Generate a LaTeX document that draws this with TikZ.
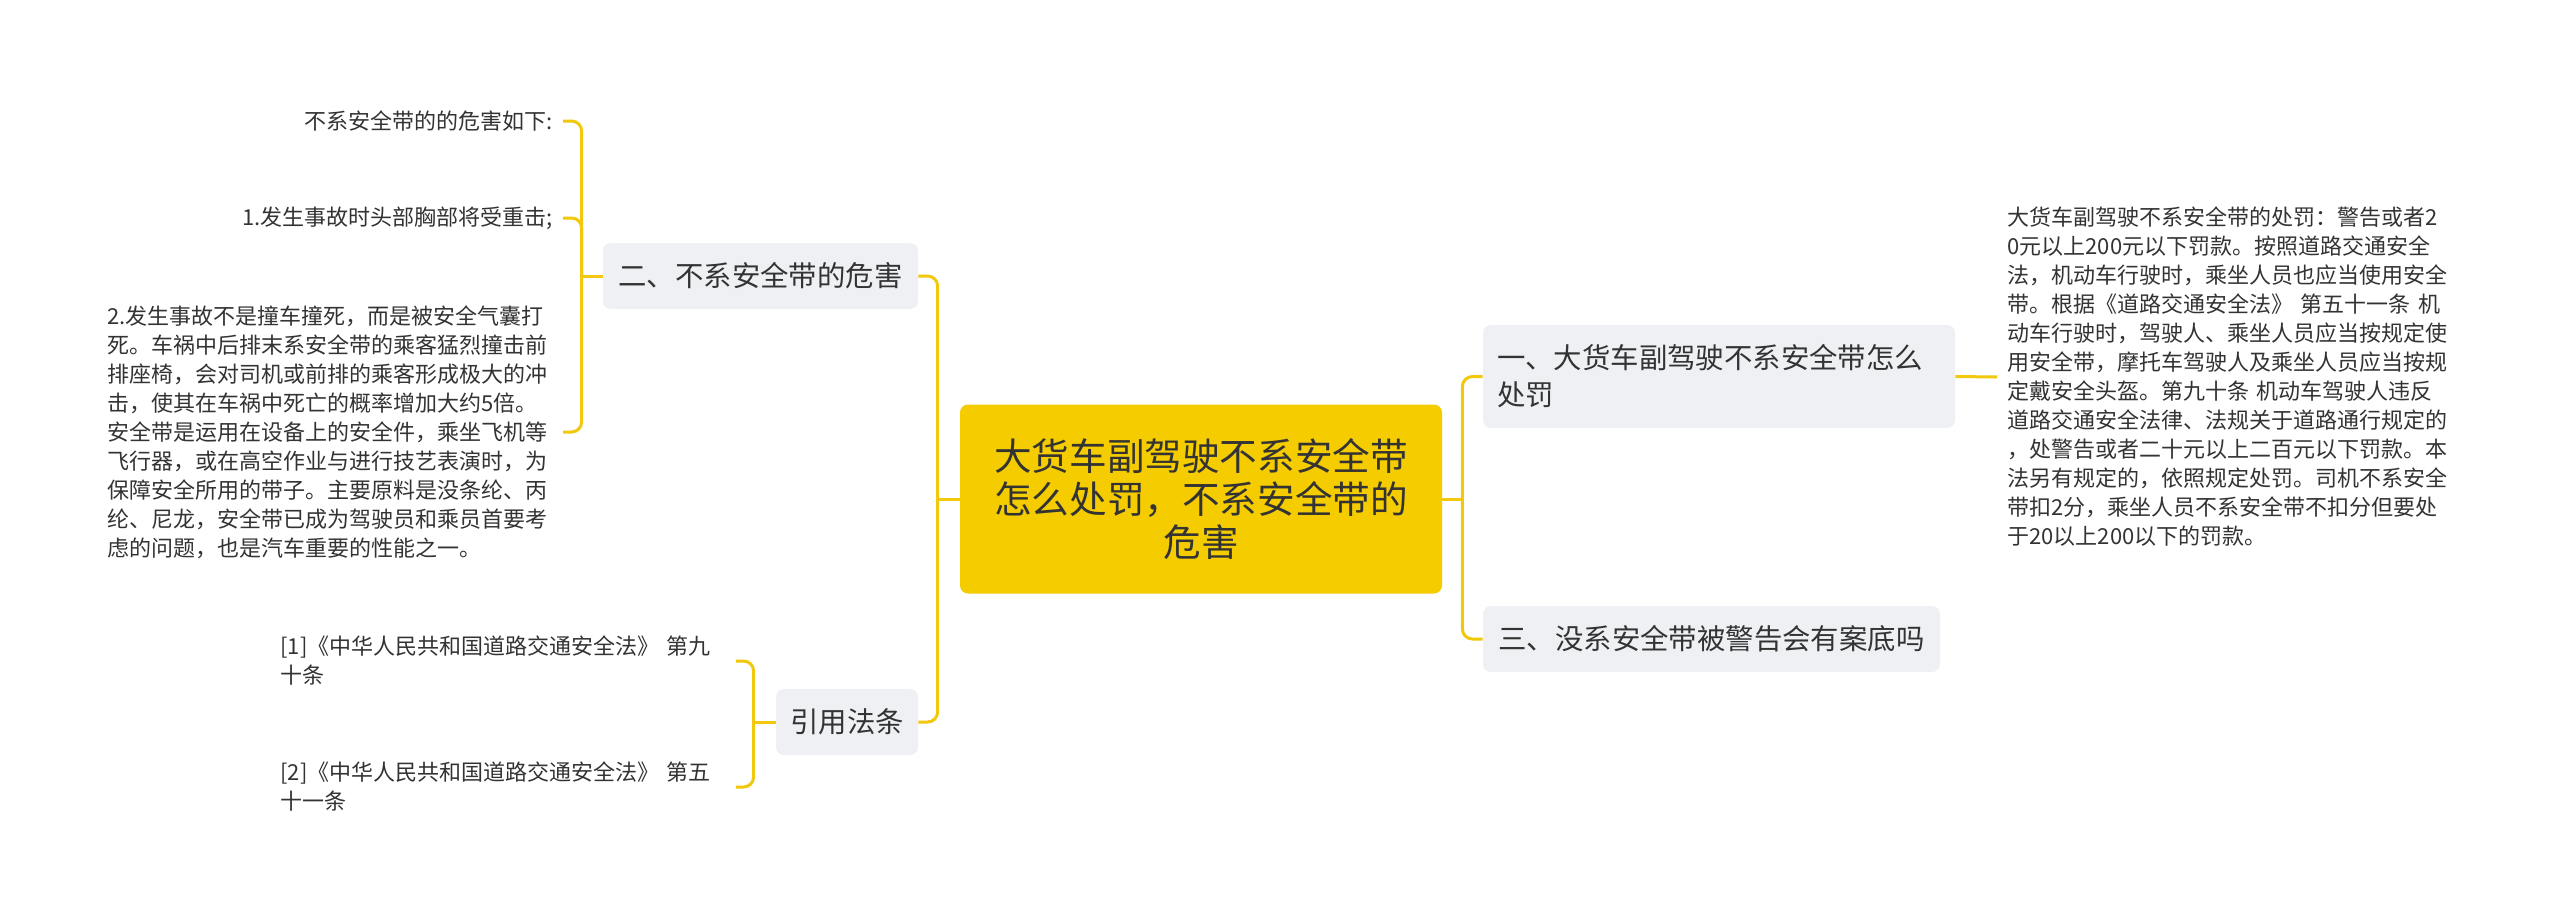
\documentclass[tikz,border=0pt]{standalone}
\usepackage{fontspec}
\usepackage{xcolor}
\usepackage{tikz}
\usetikzlibrary{positioning,calc}
\newfontfamily\zhfont{Noto Sans CJK SC}
\definecolor{rootfill}{RGB}{245,204,0}
\definecolor{topicfill}{RGB}{238,240,243}
\definecolor{linkline}{RGB}{242,200,12}
\definecolor{inktext}{RGB}{51,51,51}
\tikzset{
  rootbox/.style={fill=rootfill, rounded corners=4pt, minimum width=241pt, minimum height=94.5pt, align=center, text=inktext, font=\zhfont\fontsize{18.8pt}{21.5pt}\selectfont},
  topicbox/.style={fill=topicfill, rounded corners=4pt, minimum height=33pt, inner xsep=7pt, text=inktext, font=\zhfont\fontsize{14.2pt}{18.5pt}\selectfont},
  leaftext/.style={inner xsep=5pt, inner ysep=0pt, text width=222.5pt, text=inktext, font=\zhfont\fontsize{11pt}{14.5pt}\selectfont},
  link/.style={draw=linkline, line width=1.5pt, rounded corners=5pt}
}

\begin{document}
\begin{tikzpicture}[x=0.5pt,y=-0.5pt]
  \path[fill=white] (0,0) rectangle (2560,921);
  \useasboundingbox (0,0) rectangle (2560,921);
  \node[rootbox] (root) at (1201,499) {大货车副驾驶不系安全带\\怎么处罚，不系安全带的\\危害};
  \node[topicbox, minimum width=157.5pt] (harm) at (760.5,276) {二、不系安全带的危害};
  \node[topicbox, minimum width=71pt] (laws) at (847,722) {引用法条};
  \node[topicbox, text width=222pt, align=left, minimum height=51.5pt] (fine) at (1719,376.5) {一、大货车副驾驶不系安全带怎么\\处罚};
  \node[topicbox, minimum width=228.5pt] (record) at (1711.5,639) {三、没系安全带被警告会有案底吗};
  \node[leaftext, align=right, anchor=east] (harmhead) at (563,121) {不系安全带的的危害如下:};
  \node[leaftext, align=right, anchor=east] (harmone) at (563,218) {1.发生事故时头部胸部将受重击;};
  \node[leaftext, align=left, anchor=east] (harmtwo) at (563,432) {2.发生事故不是撞车撞死，而是被安全气囊打\\死。车祸中后排末系安全带的乘客猛烈撞击前\\排座椅，会对司机或前排的乘客形成极大的冲\\击，使其在车祸中死亡的概率增加大约5倍。\\安全带是运用在设备上的安全件，乘坐飞机等\\飞行器，或在高空作业与进行技艺表演时，为\\保障安全所用的带子。主要原料是没条纶、丙\\纶、尼龙，安全带已成为驾驶员和乘员首要考\\虑的问题，也是汽车重要的性能之一。};
  \node[leaftext, align=left, anchor=west] (lawone) at (270,661) {[1]《中华人民共和国道路交通安全法》 第九\\十条};
  \node[leaftext, align=left, anchor=west] (lawtwo) at (270,787) {[2]《中华人民共和国道路交通安全法》 第五\\十一条};
  \node[leaftext, align=left, anchor=west] (finetext) at (1997,377) {大货车副驾驶不系安全带的处罚：警告或者2\\0元以上200元以下罚款。按照道路交通安全\\法，机动车行驶时，乘坐人员也应当使用安全\\带。根据《道路交通安全法》 第五十一条 机\\动车行驶时，驾驶人、乘坐人员应当按规定使\\用安全带，摩托车驾驶人及乘坐人员应当按规\\定戴安全头盔。第九十条 机动车驾驶人违反\\道路交通安全法律、法规关于道路通行规定的\\，处警告或者二十元以上二百元以下罚款。本\\法另有规定的，依照规定处罚。司机不系安全\\带扣2分，乘坐人员不系安全带不扣分但要处\\于20以上200以下的罚款。};
  \coordinate (lj) at ([xshift=-11pt]root.west);
  \coordinate (rj) at ([xshift=10pt]root.east);
  \coordinate (hj) at ([xshift=-10.5pt]harm.west);
  \coordinate (wj) at ([xshift=-11pt]laws.west);
  \draw[link] (root.west) -- (lj);
  \draw[link] (lj) |- (harm.east);
  \draw[link] (lj) |- (laws.east);
  \draw[link] (root.east) -- (rj);
  \draw[link] (rj) |- (fine.west);
  \draw[link] (rj) |- (record.west);
  \draw[link] (fine.east) -- (finetext.west);
  \draw[link] (harm.west) -- (hj);
  \draw[link] (hj) |- (harmhead.east);
  \draw[link] (hj) |- (harmone.east);
  \draw[link] (hj) |- (harmtwo.east);
  \draw[link] (laws.west) -- (wj);
  \draw[link] (wj) |- (lawone.east);
  \draw[link] (wj) |- (lawtwo.east);
\end{tikzpicture}
\end{document}
